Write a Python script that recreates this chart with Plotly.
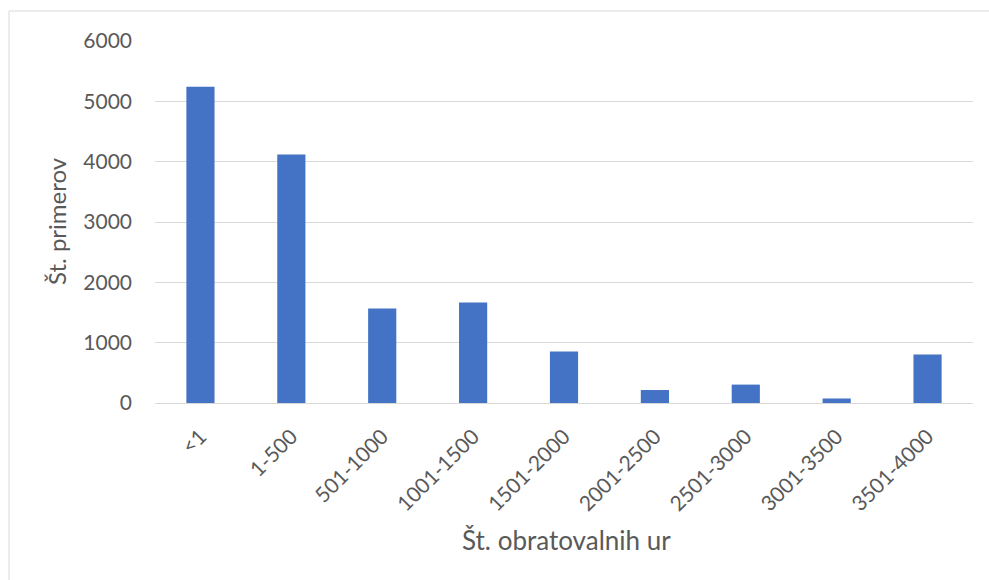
import plotly.graph_objects as go

# Operating-hour bins and sample counts
categories = ["<1", "1-500", "501-1000", "1001-1500", "1501-2000",
              "2001-2500", "2501-3000", "3001-3500", "3501-4000"]
counts = [5240, 4120, 1565, 1665, 855, 215, 305, 75, 805]
y_ticks = [0, 1000, 2000, 3000, 4000, 5000, 6000]

W, H = 989, 580
L, R, T, B = 155, 16, 41, 177
PW, PH = W - L - R, H - T - B

FONT = "Lato, Calibri, sans-serif"
TXT = "#595959"
GRID = "#d9d9d9"


def px_x(px):
    """pixel column -> paper x"""
    return (px - L) / PW


def px_y(py):
    """pixel row (from top) -> paper y"""
    return (H - B - py) / PH


fig = go.Figure(go.Bar(
    x=categories, y=counts,
    marker=dict(color="#4472C4", line=dict(width=0)),
))

# light frame around the chart area
fig.add_shape(
    type="rect", xref="paper", yref="paper",
    x0=px_x(9), x1=px_x(W + 10), y0=px_y(H + 10), y1=px_y(11),
    line=dict(color="#d9d9d9", width=1), layer="below",
)

# axis titles
fig.add_annotation(
    text="Št. primerov", xref="paper", yref="paper",
    x=px_x(57), y=px_y(221), xanchor="center", yanchor="middle",
    textangle=-90, showarrow=False, font=dict(size=24, color=TXT),
)
fig.add_annotation(
    text="Št. obratovalnih ur", xref="paper", yref="paper",
    x=px_x(566), y=px_y(540), xanchor="center", yanchor="middle",
    showarrow=False, font=dict(size=26, color=TXT),
)

fig.update_layout(
    width=W, height=H,
    margin=dict(l=L, r=R, t=T, b=B, autoexpand=False),
    paper_bgcolor="white", plot_bgcolor="white",
    bargap=0.69,
    showlegend=False,
    font=dict(family=FONT, color=TXT, size=21),
    xaxis=dict(
        tickangle=-45,
        tickfont=dict(size=21, color=TXT),
        showgrid=False,
        showline=True, linecolor=GRID, linewidth=1,
        ticks="",
        ticklabelstandoff=12,
        automargin=False,
    ),
    yaxis=dict(
        range=[0, 6000],
        tickvals=y_ticks,
        tickfont=dict(size=21, color=TXT),
        showgrid=True, gridcolor=GRID, gridwidth=1,
        zeroline=False, showline=False, ticks="",
        ticklabelstandoff=22,
        automargin=False,
    ),
)

fig.write_html("out.html")
